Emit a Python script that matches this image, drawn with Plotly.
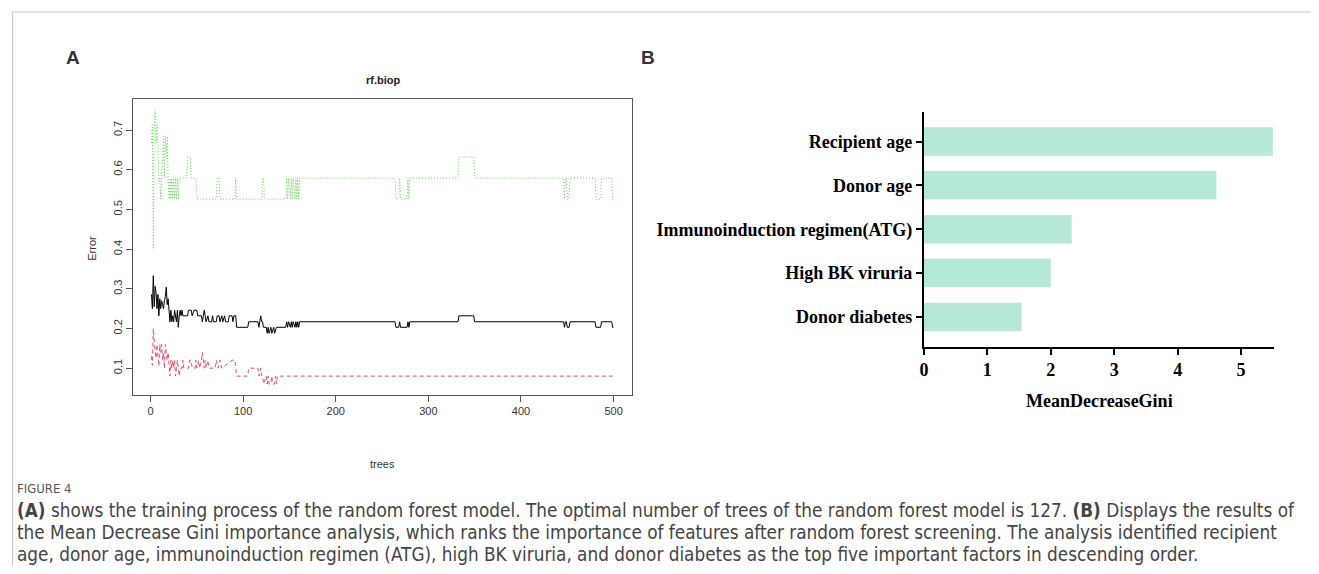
import plotly.graph_objects as go

# page body has an 8px margin; figure is sized so that it fits the 1319x574 window
OX, OY = 8, 8
W, H = 1319 - 2 * OX, 574 - 2 * OY

# ---------------- Panel A data (corner points of the step traces) ----------------
oob_trees = [1, 2, 3, 4, 5, 6, 7, 8, 9, 10, 11, 12, 13, 14, 15, 16, 17, 18, 19, 20,
             21, 22, 23, 24, 25, 26, 27, 28, 29, 30, 31, 32, 33, 34, 35, 40, 41, 44, 45, 47,
             50, 51, 55, 56, 57, 58, 59, 60, 62, 63, 66, 67, 68, 71, 72, 74, 75, 77, 78, 80,
             81, 84, 85, 88, 89, 90, 92, 93, 105, 106, 116, 117, 119, 120, 121, 122, 125, 126, 127, 128,
             130, 131, 133, 134, 136, 146, 147, 148, 149, 151, 152, 153, 154, 156, 157, 158, 159, 160, 161, 264,
             265, 268, 269, 270, 277, 278, 279, 280, 332, 333, 349, 350, 446, 447, 448, 449, 450, 452, 453, 480,
             481, 486, 487, 498, 499, 500]
oob_err = [0.286, 0.25, 0.333, 0.255, 0.306, 0.29, 0.25, 0.286, 0.232, 0.275, 0.25, 0.27, 0.26, 0.25, 0.27, 0.28, 0.304, 0.26, 0.275, 0.232,
           0.217, 0.246, 0.217, 0.232, 0.217, 0.246, 0.232, 0.217, 0.246, 0.203, 0.232, 0.246, 0.232, 0.246, 0.232, 0.232, 0.246, 0.246, 0.232, 0.246,
           0.246, 0.232, 0.232, 0.217, 0.232, 0.246, 0.232, 0.217, 0.232, 0.217, 0.217, 0.232, 0.217, 0.217, 0.232, 0.232, 0.217, 0.232, 0.217, 0.232,
           0.217, 0.217, 0.232, 0.232, 0.217, 0.232, 0.232, 0.203, 0.203, 0.217, 0.217, 0.203, 0.232, 0.217, 0.217, 0.203, 0.203, 0.188, 0.203, 0.188,
           0.203, 0.188, 0.203, 0.188, 0.203, 0.203, 0.217, 0.203, 0.217, 0.203, 0.217, 0.203, 0.217, 0.203, 0.217, 0.203, 0.217, 0.203, 0.217, 0.217,
           0.203, 0.203, 0.217, 0.203, 0.203, 0.217, 0.203, 0.217, 0.217, 0.232, 0.232, 0.217, 0.217, 0.203, 0.217, 0.217, 0.203, 0.203, 0.217, 0.217,
           0.203, 0.203, 0.217, 0.217, 0.203, 0.203]

cls1_trees = [1, 2, 3, 4, 5, 6, 7, 8, 9, 10, 11, 12, 13, 14, 15, 16, 17, 18, 19, 20,
              21, 22, 23, 24, 25, 26, 27, 28, 29, 30, 31, 32, 34, 35, 36, 41, 42, 44, 45, 48,
              49, 50, 52, 53, 55, 56, 57, 58, 59, 60, 62, 63, 70, 71, 73, 75, 77, 88, 91, 92,
              93, 105, 106, 116, 117, 119, 120, 121, 122, 125, 126, 127, 128, 130, 131, 132, 134, 135, 136, 137,
              500]
cls1_err = [0.13, 0.107, 0.2, 0.16, 0.14, 0.125, 0.16, 0.13, 0.106, 0.16, 0.14, 0.16, 0.12, 0.14, 0.10, 0.16, 0.14, 0.12, 0.14, 0.10,
            0.08, 0.12, 0.10, 0.12, 0.10, 0.12, 0.08, 0.10, 0.12, 0.10, 0.08, 0.10, 0.10, 0.12, 0.10, 0.10, 0.12, 0.12, 0.10, 0.10,
            0.12, 0.10, 0.12, 0.10, 0.12, 0.14, 0.12, 0.10, 0.12, 0.10, 0.12, 0.10, 0.10, 0.12, 0.10, 0.12, 0.10, 0.12, 0.12, 0.10,
            0.08, 0.08, 0.10, 0.10, 0.08, 0.10, 0.08, 0.08, 0.06, 0.08, 0.06, 0.08, 0.06, 0.06, 0.08, 0.06, 0.06, 0.08, 0.06, 0.08,
            0.08]

cls2_trees = [1, 2, 3, 4, 5, 6, 7, 8, 9, 10, 11, 12, 13, 14, 15, 16, 17, 18, 19, 20,
              21, 22, 23, 24, 25, 26, 27, 28, 29, 30, 31, 39, 40, 43, 44, 49, 50, 71, 72, 74,
              75, 91, 92, 93, 120, 121, 122, 123, 146, 147, 148, 149, 151, 152, 153, 154, 156, 157, 158, 159,
              160, 161, 264, 265, 268, 269, 270, 277, 278, 279, 280, 332, 333, 349, 350, 446, 447, 448, 449, 450,
              452, 453, 480, 481, 486, 487, 498, 499, 500]
cls2_err = [0.667, 0.714, 0.4, 0.714, 0.75, 0.667, 0.714, 0.667, 0.571, 0.579, 0.526, 0.579, 0.611, 0.684, 0.579, 0.684, 0.632, 0.684, 0.579, 0.526,
            0.579, 0.526, 0.579, 0.526, 0.579, 0.526, 0.579, 0.526, 0.579, 0.526, 0.579, 0.579, 0.632, 0.632, 0.579, 0.579, 0.526, 0.526, 0.579, 0.579,
            0.526, 0.526, 0.579, 0.526, 0.526, 0.579, 0.579, 0.526, 0.526, 0.579, 0.526, 0.579, 0.526, 0.579, 0.526, 0.579, 0.526, 0.579, 0.526, 0.579,
            0.526, 0.579, 0.579, 0.526, 0.526, 0.579, 0.526, 0.526, 0.579, 0.526, 0.579, 0.579, 0.632, 0.632, 0.579, 0.579, 0.526, 0.579, 0.579, 0.526,
            0.526, 0.579, 0.579, 0.526, 0.526, 0.579, 0.579, 0.526, 0.526]

tree_ticks = [0, 100, 200, 300, 400, 500]
error_ticks = [0.1, 0.2, 0.3, 0.4, 0.5, 0.6, 0.7]

# ---------------- Panel B data ----------------
features = ["Recipient age", "Donor age", "Immunoinduction regimen(ATG)", "High BK viruria", "Donor diabetes"]
gini = [5.50, 4.61, 2.33, 2.00, 1.54]
gini_ticks = [0, 1, 2, 3, 4, 5]

caption_lines = [
    "<b>(A)</b> shows the training process of the random forest model. The optimal number of trees of the random forest model is 127. <b>(B)</b> Displays the results of",
    "the Mean Decrease Gini importance analysis, which ranks the importance of features after random forest screening. The analysis identified recipient",
    "age, donor age, immunoinduction regimen (ATG), high BK viruria, and donor diabetes as the top five important factors in descending order.",
]


def px(x):
    return (x - OX) / W


def py(y):
    return 1 - (y - OY) / H


fig = go.Figure()

fig.add_trace(go.Scatter(x=oob_trees, y=oob_err, mode="lines",
                         line=dict(color="black", width=1), xaxis="x", yaxis="y", showlegend=False))
fig.add_trace(go.Scatter(x=cls1_trees, y=cls1_err, mode="lines",
                         line=dict(color="#DF536B", width=1, dash="4px,3px"), xaxis="x", yaxis="y", showlegend=False))
fig.add_trace(go.Scatter(x=cls2_trees, y=cls2_err, mode="lines",
                         line=dict(color="#61D04F", width=1, dash="1px,2px"), xaxis="x", yaxis="y", showlegend=False))

fig.add_trace(go.Bar(x=gini, y=features, orientation="h", width=0.65,
                     marker=dict(color="#B5E9D6", line=dict(width=0)),
                     xaxis="x2", yaxis="y2", showlegend=False))

tickfontA = dict(family="Liberation Sans, Arial", size=11, color="#333")
serif_bold = dict(family="Liberation Serif, Times New Roman", size=18, color="black", weight="bold")
caption_font = "DejaVu Sans Condensed, Roboto"

fig.update_layout(
    width=W, height=H,
    margin=dict(l=0, r=0, t=0, b=0),
    paper_bgcolor="white", plot_bgcolor="white",
    xaxis=dict(domain=[px(129.3), px(630)], range=[-19, 520],
               tickvals=tree_ticks, ticks="outside", ticklen=6, tickcolor="#555",
               showline=True, linecolor="#555", linewidth=1, mirror=True,
               showgrid=False, zeroline=False, tickfont=tickfontA, anchor="y"),
    yaxis=dict(domain=[py(395), py(99.3)], range=[0.0324, 0.7776],
               tickvals=error_ticks, ticks="outside", ticklen=6, tickcolor="#555",
               tickangle=-90, showline=True, linecolor="#555", linewidth=1, mirror=True,
               showgrid=False, zeroline=False, tickfont=tickfontA, anchor="x"),
    xaxis2=dict(domain=[px(922.7), px(1274)], range=[0, 5.52],
                tickvals=gini_ticks, ticks="outside", ticklen=6, tickwidth=2, tickcolor="black",
                showline=True, linecolor="black", linewidth=2,
                showgrid=False, zeroline=False, tickfont=serif_bold, anchor="y2"),
    yaxis2=dict(domain=[py(346.7), py(111.7)], range=[4.68, -0.68], type="category",
                ticks="outside", ticklen=6, tickwidth=2, tickcolor="black",
                showline=True, linecolor="black", linewidth=2,
                showgrid=False, zeroline=False, tickfont=serif_bold, anchor="x2"),
)

annotations = [
    dict(text="<b>A</b>", x=px(60), y=py(57), xanchor="left", yanchor="middle",
         font=dict(family="Liberation Sans, Arial", size=19, color="#333")),
    dict(text="<b>B</b>", x=px(637), y=py(57), xanchor="left", yanchor="middle",
         font=dict(family="Liberation Sans, Arial", size=19, color="#333")),
    dict(text="<b>rf.biop</b>", x=px(380), y=py(80), xanchor="center", yanchor="middle",
         font=dict(family="Liberation Sans, Arial", size=11, color="#222")),
    dict(text="Error", x=px(88), y=py(248), xanchor="center", yanchor="middle", textangle=-90,
         font=dict(family="Liberation Sans, Arial", size=11, color="#333")),
    dict(text="trees", x=px(380), y=py(464), xanchor="center", yanchor="middle",
         font=dict(family="Liberation Sans, Arial", size=11, color="#333")),
    dict(text="<b>MeanDecreaseGini</b>", x=px(1099), y=py(401), xanchor="center", yanchor="middle",
         font=serif_bold),
    dict(text="FIGURE 4", x=px(11), y=py(488), xanchor="left", yanchor="middle",
         font=dict(family=caption_font, size=13, color="#555")),
]
for i, line in enumerate(caption_lines):
    annotations.append(dict(text=line, x=px(11), y=py(510 + 22 * i), xanchor="left", yanchor="middle",
                            font=dict(family=caption_font, size=18.8, color="#444")))
for a in annotations:
    a.update(xref="paper", yref="paper", showarrow=False)
fig.update_layout(annotations=annotations)

fig.update_layout(shapes=[
    dict(type="line", xref="paper", yref="paper", x0=px(8.5), x1=1, y0=py(12), y1=py(12),
         line=dict(color="#c8c8c8", width=1)),
    dict(type="line", xref="paper", yref="paper", x0=px(8.5), x1=px(8.5), y0=py(12), y1=0,
         line=dict(color="#c8c8c8", width=1)),
])

fig.write_html("out.html")
